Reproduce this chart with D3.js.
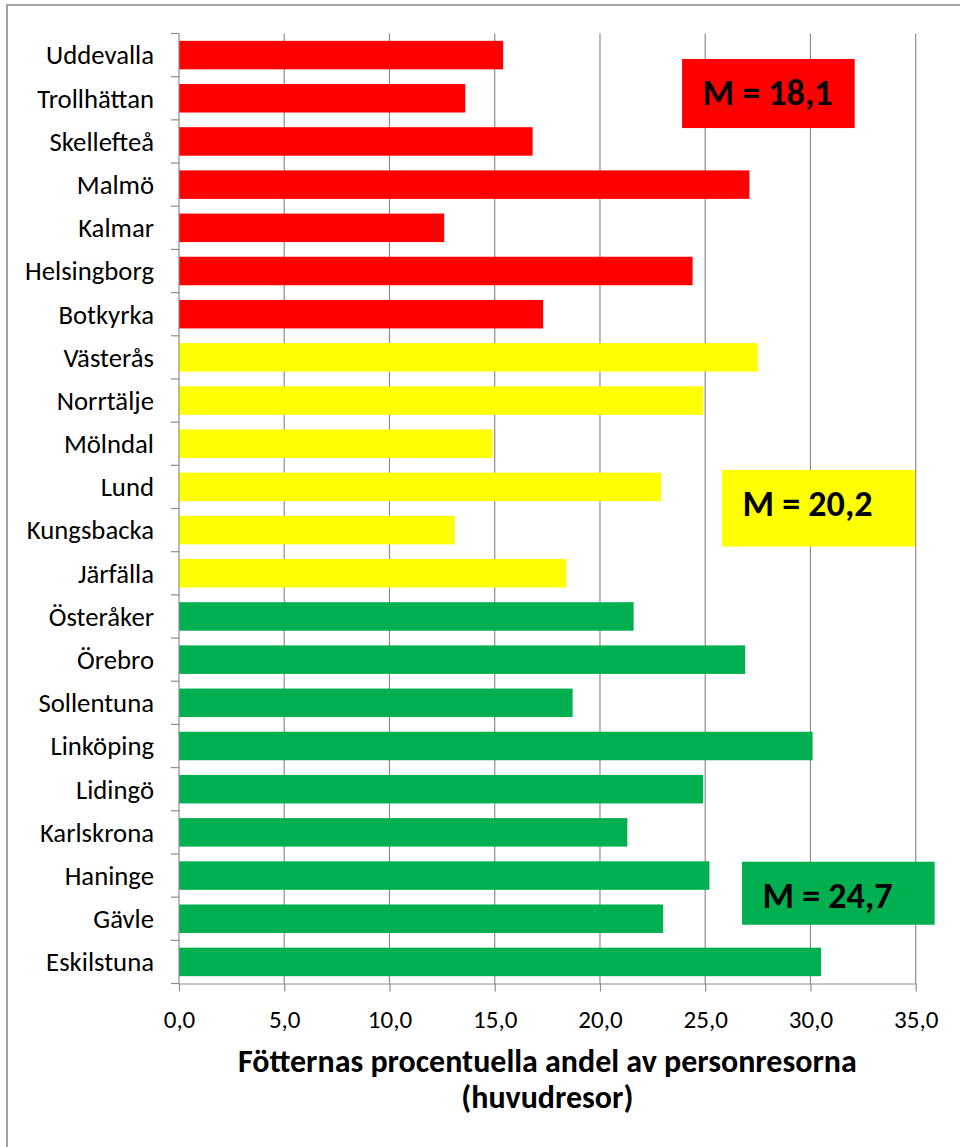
<!DOCTYPE html>
<html>
<head>
<meta charset="utf-8">
<script src="https://cdn.jsdelivr.net/npm/d3@7"></script>
<style>
  html, body { margin: 0; padding: 0; background: #fff; }
  svg { display: block; }
  text { font-family: Carlito, Lato, "Open Sans", sans-serif; fill: #000; }
</style>
</head>
<body>
<svg id="chart" width="960" height="1147"></svg>
<script>
// ---- data ----
const categories = ["Uddevalla","Trollhättan","Skellefteå","Malmö","Kalmar","Helsingborg","Botkyrka",
  "Västerås","Norrtälje","Mölndal","Lund","Kungsbacka","Järfälla",
  "Österåker","Örebro","Sollentuna","Linköping","Lidingö","Karlskrona","Haninge","Gävle","Eskilstuna"];
const values = [15.4,13.6,16.8,27.1,12.6,24.4,17.3,
  27.5,24.9,14.9,22.9,13.1,18.4,
  21.6,26.9,18.7,30.1,24.9,21.3,25.2,23.0,30.5];
const groups = ["r","r","r","r","r","r","r","y","y","y","y","y","y","g","g","g","g","g","g","g","g","g"];
const groupColors = { r: "#FF0000", y: "#FFFF00", g: "#00B050" };
const xTicks = [0,5,10,15,20,25,30,35];
const meanLabels = ["M = 18,1","M = 20,2","M = 24,7"];
const meanGroups = ["r","y","g"];
// annotation boxes: x-extent in value units, y-extent in category-band units
const meanBoxX0 = [23.9, 25.8, 26.75];
const meanBoxX1 = [32.1, 34.97, 35.9];
const meanBoxY0 = [0.59, 10.11, 19.18];
const meanBoxY1 = [2.19, 11.88, 20.64];
const axisTitle = ["Fötternas procentuella andel av personresorna", "(huvudresor)"];

// ---- layout ----
const svg = d3.select("#chart");
const plot = { left: 179, right: 915.7, top: 33.5, bottom: 983.5 };
const x = d3.scaleLinear().domain([0, 35]).range([plot.left, plot.right]);
const y = d3.scaleBand().domain(categories).range([plot.top, plot.bottom]).paddingInner(0.34).paddingOuter(0.17);
const yStep = (plot.bottom - plot.top) / categories.length;
const grid = "#8c8c8c";

// outer border
svg.append("rect").attr("x", 7).attr("y", 5).attr("width", 980).attr("height", 1170)
  .attr("fill", "none").attr("stroke", grid).attr("stroke-width", 1.6);

// font fitting helper
function fitSize(str, weight, target) {
  const t = svg.append("text").attr("font-size", 20).attr("font-weight", weight).text(str);
  const w = t.node().getComputedTextLength();
  t.remove();
  return 20 * target / w;
}
const labelSize = fitSize("Uddevalla", "normal", 108);
const tickSize = fitSize("35,0", "normal", 44.3);
const titleSize = fitSize(axisTitle[0], "bold", 619);
const meanSize = fitSize("M = 18,1", "bold", 130);

// gridlines
svg.append("g").selectAll("line").data(xTicks.slice(1)).join("line")
  .attr("x1", d => x(d)).attr("x2", d => x(d))
  .attr("y1", plot.top).attr("y2", plot.bottom)
  .attr("stroke", grid).attr("stroke-width", 1.2);

// bars
svg.append("g").selectAll("rect").data(categories).join("rect")
  .attr("x", x(0)).attr("y", d => y(d))
  .attr("width", (d, i) => x(values[i]) - x(0))
  .attr("height", y.bandwidth())
  .attr("fill", (d, i) => groupColors[groups[i]]);

// x axis
const xAxis = svg.append("g").attr("transform", `translate(0,${plot.bottom})`)
  .call(d3.axisBottom(x).tickValues(xTicks).tickSize(8).tickSizeOuter(0)
    .tickFormat(d => d3.format(".1f")(d).replace(".", ",")));
xAxis.select(".domain").attr("stroke", grid).attr("stroke-width", 1.2);
xAxis.selectAll(".tick line").attr("stroke", grid).attr("stroke-width", 1.2);
xAxis.selectAll(".tick text").attr("font-size", tickSize).attr("dy", 0).attr("y", 44.5)
  .attr("font-family", "Carlito, Lato, 'Open Sans', sans-serif").attr("fill", "#000");

// y axis line + ticks between categories
svg.append("line").attr("x1", plot.left).attr("x2", plot.left).attr("y1", plot.top).attr("y2", plot.bottom)
  .attr("stroke", grid).attr("stroke-width", 1.2);
svg.append("g").selectAll("line").data(d3.range(categories.length + 1)).join("line")
  .attr("x1", plot.left - 8).attr("x2", plot.left)
  .attr("y1", i => plot.top + i * yStep).attr("y2", i => plot.top + i * yStep)
  .attr("stroke", grid).attr("stroke-width", 1.2);

// category labels
svg.append("g").selectAll("text").data(categories).join("text")
  .attr("x", 154).attr("y", d => y(d) + y.bandwidth() / 2)
  .attr("dy", "0.35em").attr("text-anchor", "end")
  .attr("font-size", labelSize).text(d => d);

// axis title
svg.append("g").selectAll("text").data(axisTitle).join("text")
  .attr("x", (plot.left + plot.right) / 2).attr("y", (d, i) => 1071.7 + i * 36.7)
  .attr("text-anchor", "middle").attr("font-weight", "bold")
  .attr("font-size", titleSize).text(d => d);

// mean boxes
const mg = svg.append("g").selectAll("g").data(meanLabels).join("g");
mg.append("rect")
  .attr("x", (d, i) => x(meanBoxX0[i]))
  .attr("y", (d, i) => plot.top + meanBoxY0[i] * yStep)
  .attr("width", (d, i) => x(meanBoxX1[i]) - x(meanBoxX0[i]))
  .attr("height", (d, i) => (meanBoxY1[i] - meanBoxY0[i]) * yStep)
  .attr("fill", (d, i) => groupColors[meanGroups[i]]);
mg.append("text")
  .attr("x", (d, i) => x(meanBoxX0[i]) + 20.5)
  .attr("y", (d, i) => plot.top + meanBoxY0[i] * yStep + 46)
  .attr("font-weight", "bold").attr("font-size", meanSize).text(d => d);
</script>
</body>
</html>
